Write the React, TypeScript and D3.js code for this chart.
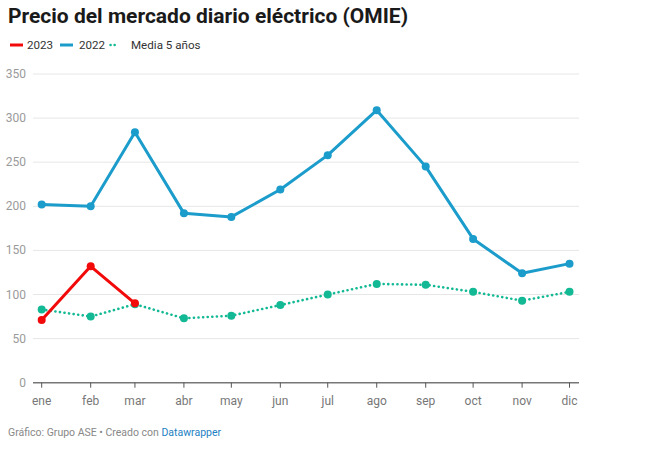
import React from "react";
import * as d3 from "d3";

const months = ["ene", "feb", "mar", "abr", "may", "jun", "jul", "ago", "sep", "oct", "nov", "dic"];
const values2023 = [71, 132, 90];
const values2022 = [202, 200, 284, 192, 188, 219, 258, 309, 245, 163, 124, 135];
const valuesMedia = [83, 75, 89, 73, 76, 88, 100, 112, 111, 103, 93, 103];
const yTicks = [0, 50, 100, 150, 200, 250, 300, 350];

const W = 650;
const H = 454;
const RED = "#f20a0a";
const BLUE = "#1b9ccb";
const TEAL = "#13b994";
const FONT = "Roboto, 'Noto Sans', sans-serif";

const monthDate = (i: number) => new Date(2022, i, 1);

export default function App() {
  const x = d3
    .scaleTime()
    .domain([new Date(2021, 11, 26, 12), new Date(2022, 11, 7)])
    .range([33, 579]);
  const y = d3.scaleLinear().domain([0, 350]).range([382.7, 74]);

  const line = d3
    .line<number>()
    .x((_, i) => x(monthDate(i)))
    .y((d) => y(d));

  const series = [
    { vals: valuesMedia, color: TEAL, dotted: true },
    { vals: values2022, color: BLUE, dotted: false },
    { vals: values2023, color: RED, dotted: false },
  ];

  return (
    <svg
      width={W}
      height={H}
      style={{ position: "absolute", left: 0, top: 0, background: "#fff" }}
      fontFamily={FONT}
    >
      <text x={8} y={23} fontSize={21} fontWeight={700} fill="#1a1a1a">
        Precio del mercado diario eléctrico (OMIE)
      </text>

      {/* legend */}
      <g fontSize={11.6} fill="#333">
        <line x1={10} x2={23} y1={45} y2={45} stroke={RED} strokeWidth={3} />
        <text x={27} y={49.3}>2023</text>
        <line x1={60} x2={73} y1={45} y2={45} stroke={BLUE} strokeWidth={3} />
        <text x={79} y={49.3}>2022</text>
        <line
          x1={110.5}
          x2={118.5}
          y1={45}
          y2={45}
          stroke={TEAL}
          strokeWidth={2.5}
          strokeDasharray="0.1 4"
          strokeLinecap="round"
        />
        <text x={131} y={49.3}>Media 5 años</text>
      </g>

      {/* grid */}
      {yTicks.map((t) => (
        <g key={t}>
          {t > 0 && (
            <line x1={33} x2={579} y1={y(t)} y2={y(t)} stroke="#e6e6e6" strokeWidth={1} />
          )}
          <text x={26} y={y(t) + 4} fontSize={12} fill="#9a9a9a" textAnchor="end">
            {t}
          </text>
        </g>
      ))}

      {/* x axis */}
      <line x1={33} x2={579} y1={y(0)} y2={y(0)} stroke="#777" strokeWidth={1.5} />
      {months.map((m, i) => (
        <g key={m}>
          <line
            x1={x(monthDate(i))}
            x2={x(monthDate(i))}
            y1={y(0)}
            y2={y(0) + 5}
            stroke="#555"
            strokeWidth={1}
          />
          <text x={x(monthDate(i))} y={405} fontSize={12} fill="#777" textAnchor="middle">
            {m}
          </text>
        </g>
      ))}

      {/* series */}
      {series.map((s, si) => (
        <g key={si}>
          <path
            d={line(s.vals) || ""}
            fill="none"
            stroke={s.color}
            strokeWidth={s.dotted ? 2.6 : 3}
            strokeDasharray={s.dotted ? "0.1 4.5" : undefined}
            strokeLinecap="round"
            strokeLinejoin="round"
          />
          {s.vals.map((v, i) => (
            <circle key={i} cx={x(monthDate(i))} cy={y(v)} r={4} fill={s.color} />
          ))}
        </g>
      ))}

      {/* footer */}
      <text x={8} y={436} fontSize={10.5} fill="#888">
        Gráfico: Grupo ASE • Creado con <tspan fill="#1d81c2">Datawrapper</tspan>
      </text>
    </svg>
  );
}
